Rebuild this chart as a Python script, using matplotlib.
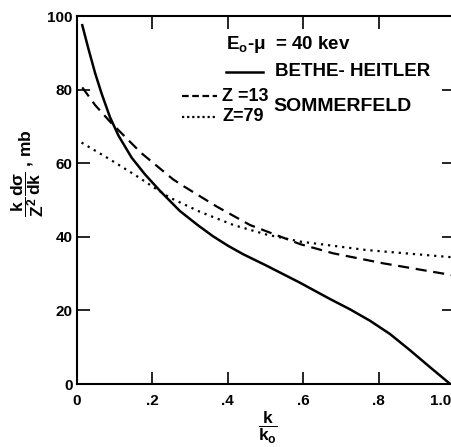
import matplotlib.pyplot as plt
import matplotlib.transforms as mtransforms

# values (k/k0 vs k/Z^2 dsigma/dk, mb)
bh_x = [0.014, 0.03, 0.048, 0.065, 0.0875, 0.11, 0.145, 0.18, 0.22, 0.273, 0.32,
        0.36, 0.40, 0.44, 0.5, 0.59, 0.671, 0.724, 0.777, 0.83, 0.883, 0.936, 0.99]
bh_y = [97.5, 91.2, 84.5, 79.0, 72.5, 67.5, 61.5, 57.0, 52.5, 47.0, 43.2,
        40.2, 37.6, 35.3, 32.3, 27.6, 23.1, 20.3, 17.2, 13.6, 9.2, 4.6, 0.0]

z13_x = [0.014, 0.048, 0.0875, 0.17, 0.255, 0.282, 0.371, 0.459, 0.592, 0.68, 0.812, 1.0]
z13_y = [80.6, 75.8, 71.3, 62.8, 55.6, 53.8, 48.2, 43.2, 38.0, 35.5, 32.8, 29.5]

z79_x = [0.012, 0.083, 0.154, 0.207, 0.247, 0.326, 0.415, 0.503, 0.592, 0.768, 1.0]
z79_y = [65.6, 61.3, 56.8, 53.2, 50.6, 46.8, 43.2, 40.6, 38.7, 36.4, 34.4]

x_ticks = [0, 0.2, 0.4, 0.6, 0.8, 1.0]
x_labels = ["0", ".2", ".4", ".6", ".8", "1.0"]
y_ticks = [0, 20, 40, 60, 80, 100]

plt.rcParams['font.family'] = ['Liberation Sans', 'DejaVu Sans']
plt.rcParams['mathtext.fontset'] = 'custom'
plt.rcParams['mathtext.rm'] = 'Liberation Sans:bold'
plt.rcParams['mathtext.it'] = 'Liberation Sans:bold'
plt.rcParams['mathtext.bf'] = 'Liberation Sans:bold'

fig = plt.figure(figsize=(4.52, 4.47), dpi=100)
ax = fig.add_axes([77 / 452, 63 / 447, 377 / 452, 368 / 447])

ax.plot(bh_x, bh_y, color='black', lw=1.8, solid_joinstyle='round')
ax.plot(z13_x, z13_y, color='black', lw=1.6, ls=(0, (5, 3)))
ax.plot(z79_x, z79_y, color='black', lw=1.6, ls=(0, (1, 2.2)))

ax.set_xlim(0, 1.0)
ax.set_ylim(0, 100)
ax.set_xticks(x_ticks)
ax.set_xticklabels(x_labels)
ax.set_yticks(y_ticks)
ax.tick_params(direction='in', length=9, width=1.2, top=True, right=True,
               labelsize=11, pad=7)
ax.tick_params(axis='y', pad=3)
for lab in ax.get_xticklabels() + ax.get_yticklabels():
    lab.set_fontweight('bold')
# last x label sits at the right edge of the figure
last = ax.get_xticklabels()[-1]
last.set_ha('right')
last.set_transform(last.get_transform() + mtransforms.ScaledTranslation(-3 / 100, 0, fig.dpi_scale_trans))
for sp in ax.spines.values():
    sp.set_linewidth(1.5)
ax.spines['right'].set_visible(False)

# annotation / legend text
ax.text(0.395, 92.2, r"E$_o$-$\mu$  = 40 kev", fontsize=13.5, fontweight='bold', va='center')
ax.plot([0.395, 0.494], [84.8, 84.8], color='black', lw=1.8)
ax.text(0.525, 84.8, "BETHE- HEITLER", fontsize=13.5, fontweight='bold', va='center')
ax.plot([0.278, 0.372], [78.2, 78.2], color='black', lw=1.6, ls=(0, (3, 1.6)))
ax.text(0.385, 78.2, "Z =13", fontsize=13, fontweight='bold', va='center')
ax.plot([0.278, 0.372], [72.6, 72.6], color='black', lw=1.6, ls=(0, (1, 1.3)))
ax.text(0.385, 72.6, "Z=79", fontsize=13, fontweight='bold', va='center')
ax.text(0.52, 75.5, "SOMMERFELD", fontsize=14, fontweight='bold', va='center')

fig.text(28 / 452, 1 - 173 / 447, r"$\dfrac{k}{Z^2}\dfrac{d\sigma}{dk}$ , mb",
         rotation=90, ha='center', va='center', fontsize=12.5, fontweight='bold')
fig.text(268 / 452, 1 - 428 / 447, r"$\dfrac{k}{k_o}$", ha='center', va='center',
         fontsize=12.5, fontweight='bold')

fig.savefig('out.png', dpi=100)
